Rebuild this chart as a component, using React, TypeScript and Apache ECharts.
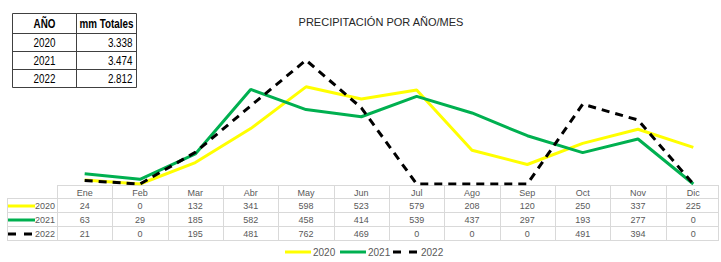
import React, { useEffect, useRef } from "react";
import * as echarts from "echarts";

const months = ["Ene", "Feb", "Mar", "Abr", "May", "Jun", "Jul", "Ago", "Sep", "Oct", "Nov", "Dic"];
const years = ["2020", "2021", "2022"];
const values2020 = [24, 0, 132, 341, 598, 523, 579, 208, 120, 250, 337, 225];
const values2021 = [63, 29, 185, 582, 458, 414, 539, 437, 297, 193, 277, 0];
const values2022 = [21, 0, 195, 481, 762, 469, 0, 0, 0, 491, 394, 0];
const totals = ["3.338", "3.474", "2.812"];
const title = "PRECIPITACIÓN POR AÑO/MES";

const W = 721;
const H = 262;
const GL = 57;
const GR = 0;
const GT = 54;
const GB = 78;
const colW = (W - GL - GR) / 12;
const FONT = "'Liberation Sans', Arial, sans-serif";
const TFONT = "'Liberation Sans', Arial, sans-serif";

const seriesDefs = [
  { name: years[0], data: values2020, color: "#FFFF00", dash: null as any },
  { name: years[1], data: values2021, color: "#00B050", dash: null as any },
  { name: years[2], data: values2022, color: "#000000", dash: [8, 6] },
];

function buildGraphics() {
  const g: any[] = [];
  const gridLine = "#d9d9d9";
  const txt = "#595959";
  // data table
  const tTop = 185;
  const rowY = [198, 212, 226, 240];
  const tRight = 719;
  g.push({ type: "line", shape: { x1: GL, y1: tTop + 0.5, x2: tRight, y2: tTop + 0.5 }, style: { stroke: gridLine, lineWidth: 1 } });
  rowY.forEach((y) => {
    g.push({ type: "line", shape: { x1: 7, y1: y + 0.5, x2: tRight, y2: y + 0.5 }, style: { stroke: gridLine, lineWidth: 1 } });
  });
  g.push({ type: "line", shape: { x1: 7.5, y1: rowY[0], x2: 7.5, y2: rowY[3] }, style: { stroke: gridLine, lineWidth: 1 } });
  for (let i = 0; i <= 12; i++) {
    const x = Math.min(Math.round(GL + i * colW) + 0.5, tRight - 0.5);
    g.push({ type: "line", shape: { x1: x, y1: tTop, x2: x, y2: rowY[3] }, style: { stroke: gridLine, lineWidth: 1 } });
  }
  months.forEach((m, i) => {
    g.push({ type: "text", x: GL + (i + 0.5) * colW, y: (tTop + rowY[0]) / 2 + 1, style: { text: m, fill: txt, font: `9px ${TFONT}`, align: "center", verticalAlign: "middle" } });
  });
  seriesDefs.forEach((s, r) => {
    const cy = (rowY[r] + rowY[r + 1]) / 2 + 1;
    g.push({ type: "line", shape: { x1: 8, y1: cy, x2: 35, y2: cy }, style: { stroke: s.color, lineWidth: 3, lineDash: s.dash ? [8, 8] : null } });
    g.push({ type: "text", x: 55, y: cy, style: { text: s.name, fill: txt, font: `9px ${TFONT}`, align: "right", verticalAlign: "middle" } });
    s.data.forEach((v, i) => {
      g.push({ type: "text", x: GL + (i + 0.5) * colW, y: cy, style: { text: String(v), fill: txt, font: `9px ${TFONT}`, align: "center", verticalAlign: "middle" } });
    });
  });
  // bottom legend
  const ly = 252;
  const legendX = [285, 340, 393];
  seriesDefs.forEach((s, i) => {
    const x0 = legendX[i];
    g.push({ type: "line", shape: { x1: x0, y1: ly, x2: x0 + 26, y2: ly }, style: { stroke: s.color, lineWidth: 3, lineDash: s.dash ? [8, 8] : null } });
    g.push({ type: "text", x: x0 + 28, y: ly, style: { text: s.name, fill: txt, font: `10px ${TFONT}`, align: "left", verticalAlign: "middle" } });
  });
  // totals table
  const L = 12.5, R = 136.5, M = 76.5;
  const ys = [13.5, 33.5, 51.5, 69.5, 87.5];
  const bc = "#404040";
  const sx = 0.82;
  ys.forEach((y) => g.push({ type: "line", shape: { x1: L, y1: y, x2: R, y2: y }, style: { stroke: bc, lineWidth: 1 } }));
  [L, M, R].forEach((x) => g.push({ type: "line", shape: { x1: x, y1: ys[0], x2: x, y2: ys[4] }, style: { stroke: bc, lineWidth: 1 } }));
  g.push({ type: "text", x: (L + M) / 2, y: (ys[0] + ys[1]) / 2, scaleX: sx, style: { text: "AÑO", fill: "#000", font: `bold 12px ${FONT}`, align: "center", verticalAlign: "middle" } });
  g.push({ type: "text", x: (M + R) / 2, y: (ys[0] + ys[1]) / 2, scaleX: sx, style: { text: "mm Totales", fill: "#000", font: `bold 12px ${FONT}`, align: "center", verticalAlign: "middle" } });
  years.forEach((yv, i) => {
    const cy = (ys[i + 1] + ys[i + 2]) / 2;
    g.push({ type: "text", x: (L + M) / 2, y: cy, scaleX: sx, style: { text: yv, fill: "#000", font: `12px ${FONT}`, align: "center", verticalAlign: "middle" } });
    g.push({ type: "text", x: R - 4, y: cy, scaleX: sx, style: { text: totals[i], fill: "#000", font: `12px ${FONT}`, align: "right", verticalAlign: "middle" } });
  });
  return g;
}

export default function App() {
  const ref = useRef<HTMLDivElement>(null);
  useEffect(() => {
    if (!ref.current) return;
    const chart = echarts.init(ref.current, null, { renderer: "svg" });
    chart.setOption({
      animation: false,
      backgroundColor: "#ffffff",
      title: {
        text: title,
        left: 376,
        top: 11,
        textAlign: "center",
        textStyle: { fontFamily: TFONT, fontSize: 11, fontWeight: "normal", color: "#262626" },
      },
      grid: { left: GL, right: GR, top: GT, bottom: GB },
      xAxis: {
        type: "category",
        data: months,
        boundaryGap: true,
        axisLine: { show: false },
        axisTick: { show: false },
        axisLabel: { show: false },
        splitLine: { show: false },
      },
      yAxis: {
        type: "value",
        min: 0,
        max: 800,
        show: false,
        splitLine: { show: false },
      },
      series: seriesDefs.map((s) => ({
        name: s.name,
        type: "line",
        data: s.data,
        symbol: "none",
        color: s.color,
        lineStyle: { color: s.color, width: 3, type: s.dash ? s.dash : "solid" },
        z: s.dash ? 3 : 2,
      })),
      graphic: buildGraphics(),
    });
    return () => chart.dispose();
  }, []);
  return <div ref={ref} style={{ width: W, height: H, position: "absolute", left: 0, top: 0 }} />;
}
